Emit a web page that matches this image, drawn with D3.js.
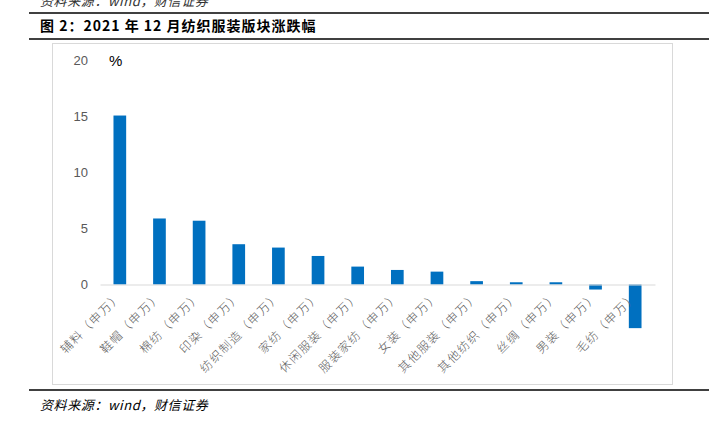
<!DOCTYPE html>
<html><head><meta charset="utf-8">
<script src="https://cdn.jsdelivr.net/npm/d3@7"></script>
<style>body{margin:0;background:#fff;}svg{display:block;}</style>
</head><body>
<script>
const categories = ["辅料（申万）","鞋帽（申万）","棉纺（申万）","印染（申万）","纺织制造（申万）","家纺（申万）","休闲服装（申万）","服装家纺（申万）","女装（申万）","其他服装（申万）","其他纺织（申万）","丝绸（申万）","男装（申万）","毛纺（申万）"];
const values = [15.1, 5.9, 5.7, 3.6, 3.3, 2.55, 1.6, 1.3, 1.15, 0.3, 0.2, 0.2, -0.45, -3.9];
const yTicks = [0, 5, 10, 15, 20];
const titleText = "图 2：2021 年 12 月纺织服装版块涨跌幅";
const sourceText = "资料来源：wind，财信证券";
const unitText = "%";

const W = 709, H = 423;
const svg = d3.select("body").append("svg").attr("width", W).attr("height", H);

// header (source line of the previous figure, cut at the top as in the reference)
svg.append("text").attr("x", 40).attr("y", 6).attr("font-family", "Noto Sans CJK SC")
  .attr("font-style", "italic").attr("font-size", 13).attr("letter-spacing", 0.6).attr("fill", "#333").text(sourceText);
svg.append("line").attr("x1", 29).attr("x2", W).attr("y1", 13).attr("y2", 13).attr("stroke", "#000").attr("stroke-width", 1.5);
svg.append("text").attr("x", 40).attr("y", 31).attr("font-family", "Noto Sans CJK SC")
  .attr("font-weight", "bold").attr("font-size", 14).attr("letter-spacing", 1).attr("fill", "#000").text(titleText);
svg.append("line").attr("x1", 29).attr("x2", W).attr("y1", 39).attr("y2", 39).attr("stroke", "#000").attr("stroke-width", 1.5);

// chart box
svg.append("rect").attr("x", 52.5).attr("y", 43.5).attr("width", 620).attr("height", 341)
  .attr("fill", "#fff").attr("stroke", "#d9d9d9").attr("stroke-width", 1);

// footer
svg.append("line").attr("x1", 29).attr("x2", W).attr("y1", 390).attr("y2", 390).attr("stroke", "#000").attr("stroke-width", 1.5);
svg.append("text").attr("x", 40).attr("y", 410).attr("font-family", "Noto Sans CJK SC")
  .attr("font-style", "italic").attr("font-size", 13).attr("letter-spacing", 0.6).attr("fill", "#000").text(sourceText);

// scales
const x = d3.scaleBand().domain(categories).range([100, 655]).paddingInner(0.68).paddingOuter(0.34);
const y = d3.scaleLinear().domain([0, 20]).range([284.5, 60.7]);

// y axis labels
const yAxis = d3.axisLeft(y).tickValues(yTicks).tickSize(0).tickPadding(0).tickFormat(d3.format("d"));
const gy = svg.append("g").attr("transform", "translate(88,0)").call(yAxis);
gy.select(".domain").remove();
gy.selectAll("text").attr("font-family", "Liberation Sans, Arial").attr("font-size", 13).attr("fill", "#595959");

svg.append("text").attr("x", 109).attr("y", 66).attr("font-family", "Liberation Sans, Arial")
  .attr("font-size", 15).attr("fill", "#000").text(unitText);

// bars
svg.append("g").selectAll("rect").data(values).join("rect")
  .attr("x", (d, i) => x(categories[i]))
  .attr("width", x.bandwidth())
  .attr("y", d => y(Math.max(0, d)))
  .attr("height", d => Math.abs(y(d) - y(0)))
  .attr("fill", "#0070C0");

// zero axis line
const xAxis = d3.axisBottom(x).tickSize(0).tickPadding(0);
const gx = svg.append("g").attr("transform", `translate(0,${y(0)})`).call(xAxis);
gx.select(".domain").attr("stroke", "#d9d9d9").attr("stroke-width", 1.2);
gx.selectAll(".tick text").remove();

// category labels rotated
svg.append("g").selectAll("text").data(categories).join("text")
  .attr("transform", d => `translate(${x(d) + x.bandwidth()/2 + 3},${297}) rotate(-45)`)
  .attr("text-anchor", "end")
  .attr("font-family", "Noto Sans CJK SC")
  .attr("font-size", 12)
  .attr("font-weight", 300)
  .attr("letter-spacing", 1.5)
  .attr("fill", "#595959")
  .text(d => d);
</script>
</body></html>
